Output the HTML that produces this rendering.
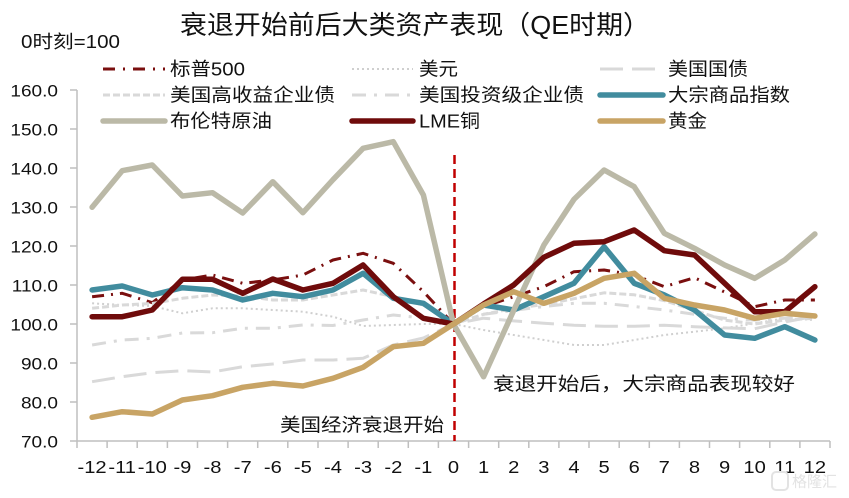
<!DOCTYPE html>
<html>
<head>
<meta charset="utf-8">
<style>
html,body{margin:0;padding:0;background:#fff;}
svg{display:block;}
text{font-family:"Liberation Sans","Noto Sans CJK SC",sans-serif;fill:#111;}
</style>
</head>
<body>
<svg width="849" height="498" viewBox="0 0 849 498" xmlns="http://www.w3.org/2000/svg">
<rect width="849" height="498" fill="#fff"/>

<!-- Title -->
<text x="415" y="25" font-size="26" text-anchor="middle" dominant-baseline="central" textLength="470" lengthAdjust="spacingAndGlyphs">衰退开始前后大类资产表现（QE时期）</text>
<text x="21" y="42" font-size="18" dominant-baseline="central" textLength="99" lengthAdjust="spacingAndGlyphs">0时刻=100</text>

<!-- Legend samples -->
<g fill="none">
  <line x1="103" y1="69" x2="165" y2="69" stroke="#7A0F0F" stroke-width="3" stroke-dasharray="12 8 2 8"/>
  <line x1="352" y1="69" x2="413" y2="69" stroke="#CFCFCF" stroke-width="2" stroke-dasharray="2 3"/>
  <line x1="600" y1="69" x2="663" y2="69" stroke="#D9D9D9" stroke-width="3" stroke-dasharray="23 9"/>
  <line x1="103" y1="95" x2="165" y2="95" stroke="#D9D9D9" stroke-width="3" stroke-dasharray="7 3"/>
  <line x1="352" y1="95" x2="413" y2="95" stroke="#D9D9D9" stroke-width="3" stroke-dasharray="14 8 3 8"/>
  <line x1="600" y1="95" x2="663" y2="95" stroke="#418C9E" stroke-width="5.5" stroke-linecap="round"/>
  <line x1="103" y1="121" x2="165" y2="121" stroke="#BBB9A7" stroke-width="5.5" stroke-linecap="round"/>
  <line x1="352" y1="121" x2="413" y2="121" stroke="#6F0B0B" stroke-width="5.5" stroke-linecap="round"/>
  <line x1="600" y1="121" x2="663" y2="121" stroke="#C8A465" stroke-width="5.5" stroke-linecap="round"/>
</g>
<g font-size="18.5" dominant-baseline="central">
  <text x="170" y="69" textLength="75" lengthAdjust="spacingAndGlyphs">标普500</text>
  <text x="419" y="69" textLength="39" lengthAdjust="spacingAndGlyphs">美元</text>
  <text x="668" y="69" textLength="80" lengthAdjust="spacingAndGlyphs">美国国债</text>
  <text x="170" y="95" textLength="165" lengthAdjust="spacingAndGlyphs">美国高收益企业债</text>
  <text x="419" y="95" textLength="165" lengthAdjust="spacingAndGlyphs">美国投资级企业债</text>
  <text x="668" y="95" textLength="122" lengthAdjust="spacingAndGlyphs">大宗商品指数</text>
  <text x="170" y="121" textLength="102" lengthAdjust="spacingAndGlyphs">布伦特原油</text>
  <text x="419" y="121" textLength="61" lengthAdjust="spacingAndGlyphs">LME铜</text>
  <text x="668" y="121" textLength="39" lengthAdjust="spacingAndGlyphs">黄金</text>
</g>

<!-- Axes -->
<g stroke="#BFBFBF" stroke-width="1.5" fill="none">
  <line x1="77" y1="90" x2="77" y2="441"/>
  <line x1="77" y1="441" x2="830" y2="441"/>
  <path d="M70 90H77M70 129H77M70 168H77M70 207H77M70 246H77M70 285H77M70 324H77M70 363H77M70 402H77M70 441H77"/>
  <path d="M77 441V448M107.1 441V448M137.2 441V448M167.4 441V448M197.5 441V448M227.6 441V448M257.7 441V448M287.8 441V448M318 441V448M348.1 441V448M378.2 441V448M408.3 441V448M438.4 441V448M468.6 441V448M498.7 441V448M528.8 441V448M558.9 441V448M589 441V448M619.2 441V448M649.3 441V448M679.4 441V448M709.5 441V448M739.6 441V448M769.8 441V448M799.9 441V448M830 441V448"/>
</g>

<!-- Y labels -->
<g transform="scale(1.12,1)" font-size="17" text-anchor="end" dominant-baseline="central">
  <text x="51.8" y="91">160.0</text>
  <text x="51.8" y="130">150.0</text>
  <text x="51.8" y="169">140.0</text>
  <text x="51.8" y="208">130.0</text>
  <text x="51.8" y="247">120.0</text>
  <text x="51.8" y="286">110.0</text>
  <text x="51.8" y="325">100.0</text>
  <text x="51.8" y="364">90.0</text>
  <text x="51.8" y="403">80.0</text>
  <text x="51.8" y="442">70.0</text>
</g>

<!-- X labels -->
<g transform="scale(1.12,1)" font-size="18" text-anchor="middle" dominant-baseline="central">
  <text x="82.2" y="468">-12</text>
  <text x="109.1" y="468">-11</text>
  <text x="136" y="468">-10</text>
  <text x="162.9" y="468">-9</text>
  <text x="189.7" y="468">-8</text>
  <text x="216.7" y="468">-7</text>
  <text x="243.6" y="468">-6</text>
  <text x="270.4" y="468">-5</text>
  <text x="297.3" y="468">-4</text>
  <text x="324.2" y="468">-3</text>
  <text x="351.2" y="468">-2</text>
  <text x="378" y="468">-1</text>
  <text x="404.9" y="468">0</text>
  <text x="431.8" y="468">1</text>
  <text x="458.7" y="468">2</text>
  <text x="485.6" y="468">3</text>
  <text x="512.5" y="468">4</text>
  <text x="539.4" y="468">5</text>
  <text x="566.3" y="468">6</text>
  <text x="593.1" y="468">7</text>
  <text x="620.1" y="468">8</text>
  <text x="647" y="468">9</text>
  <text x="673.8" y="468">10</text>
  <text x="700.7" y="468">11</text>
  <text x="727.6" y="468">12</text>
</g>

<!-- Red dashed vertical -->
<line x1="454.5" y1="155" x2="454.5" y2="441" stroke="#C00000" stroke-width="2.5" stroke-dasharray="9 5"/>

<!-- Series -->
<g fill="none" stroke-linejoin="round">
  <!-- S&P 500 -->
  <polyline stroke="#7A0F0F" stroke-width="3" stroke-dasharray="12 7 2 7" points="92.1,296.7 122.2,293.3 152.3,302.7 182.4,280 212.5,275 242.7,283.3 272.8,280 302.9,275 333,260 363.1,253.3 393.3,263.3 423.4,291.7 453.5,324 483.6,306.7 513.7,296.7 543.9,286.7 574,271.7 604.1,270 634.2,275 664.3,286.7 694.5,277.7 724.6,292 754.7,306.7 784.8,300 814.9,300"/>
  <!-- Dollar -->
  <polyline stroke="#CFCFCF" stroke-width="2" stroke-dasharray="2 3" points="92.1,303.3 122.2,305 152.3,306 182.4,313.3 212.5,308.3 242.7,308.3 272.8,310 302.9,311.7 333,316.7 363.1,326 393.3,325 423.4,324 453.5,324 483.6,330 513.7,335 543.9,340 574,345 604.1,345 634.2,340 664.3,335 694.5,331.7 724.6,328.3 754.7,323.3 784.8,318.3 814.9,320"/>
  <!-- Treasury -->
  <polyline stroke="#D9D9D9" stroke-width="3" stroke-dasharray="23 9" points="92.1,381.7 122.2,376.7 152.3,372.7 182.4,370.7 212.5,372 242.7,366.7 272.8,364 302.9,360 333,360 363.1,358.3 393.3,345 423.4,338 453.5,324 483.6,318.2 513.7,320.9 543.9,323.2 574,325.2 604.1,326.3 634.2,326.3 664.3,325.2 694.5,326.7 724.6,327.9 754.7,328.7 784.8,322 814.9,316.2"/>
  <!-- High yield -->
  <polyline stroke="#D9D9D9" stroke-width="3" stroke-dasharray="7 3" points="92.1,308.3 122.2,305 152.3,303.5 182.4,298.3 212.5,295 242.7,296 272.8,300 302.9,300 333,295 363.1,290 393.3,296.7 423.4,305 453.5,324 483.6,314.3 513.7,308.4 543.9,304.5 574,298.7 604.1,292.8 634.2,294.8 664.3,300.6 694.5,310.4 724.6,320.1 754.7,324 784.8,320.1 814.9,318.2"/>
  <!-- Investment grade -->
  <polyline stroke="#D9D9D9" stroke-width="3" stroke-dasharray="14 8 3 8" points="92.1,345 122.2,340 152.3,338.3 182.4,333 212.5,332.7 242.7,328.3 272.8,328.3 302.9,325 333,325.5 363.1,320 393.3,315 423.4,318 453.5,324 483.6,314.3 513.7,310.4 543.9,306.5 574,303.3 604.1,303.3 634.2,306.5 664.3,310 694.5,314.3 724.6,318.2 754.7,320.1 784.8,318.2 814.9,316.2"/>
  <!-- Commodity index -->
  <polyline stroke="#418C9E" stroke-width="5.5" stroke-linecap="round" points="92.1,290 122.2,286 152.3,295 182.4,287.7 212.5,290 242.7,300 272.8,293.3 302.9,296.7 333,290 363.1,273.3 393.3,298.3 423.4,303.3 453.5,324 483.6,305 513.7,310 543.9,296.7 574,283.3 604.1,246.7 634.2,283.3 664.3,295 694.5,310 724.6,335 754.7,338.3 784.8,326.7 814.9,340"/>
  <!-- Brent -->
  <polyline stroke="#BBB9A7" stroke-width="5.5" stroke-linecap="round" points="92.1,207.3 122.2,170.7 152.3,165 182.4,196 212.5,192.7 242.7,213 272.8,181.7 302.9,212.7 333,179.7 363.1,148.3 393.3,141.7 423.4,195 453.5,324 483.6,376.7 513.7,310.4 543.9,245 574,199.3 604.1,170 634.2,186.7 664.3,233.3 694.5,248.3 724.6,265 754.7,278.3 784.8,260 814.9,234"/>
  <!-- LME copper -->
  <polyline stroke="#6F0B0B" stroke-width="5.5" stroke-linecap="round" points="92.1,316.7 122.2,316.7 152.3,310 182.4,279.3 212.5,279.3 242.7,293.3 272.8,279 302.9,290 333,283.3 363.1,265 393.3,296.7 423.4,318.3 453.5,324 483.6,304 513.7,285 543.9,257.3 574,243.3 604.1,241.7 634.2,230 664.3,250.7 694.5,255 724.6,283.3 754.7,311.7 784.8,311.7 814.9,286.7"/>
  <!-- Gold -->
  <polyline stroke="#C8A465" stroke-width="5.5" stroke-linecap="round" points="92.1,417.3 122.2,411.7 152.3,414 182.4,400 212.5,395.7 242.7,387.3 272.8,383.3 302.9,386 333,378.3 363.1,367.3 393.3,346.7 423.4,343.3 453.5,324 483.6,305 513.7,291.7 543.9,303.3 574,293.3 604.1,278.3 634.2,273.3 664.3,298.3 694.5,305 724.6,310 754.7,318.3 784.8,313.3 814.9,316"/>
</g>

<!-- Annotations -->
<text x="493" y="384" font-size="18.5" dominant-baseline="central" textLength="302" lengthAdjust="spacingAndGlyphs">衰退开始后，大宗商品表现较好</text>
<text x="280" y="425" font-size="18.5" dominant-baseline="central" textLength="164" lengthAdjust="spacingAndGlyphs">美国经济衰退开始</text>

<!-- Watermark -->
<rect x="772" y="472" width="16" height="18" rx="4" fill="none" stroke="#E3E3E3" stroke-width="2"/>
<text x="792" y="482" font-size="15" dominant-baseline="central" style="fill:#E3E3E3">格隆汇</text>
</svg>
</body>
</html>
